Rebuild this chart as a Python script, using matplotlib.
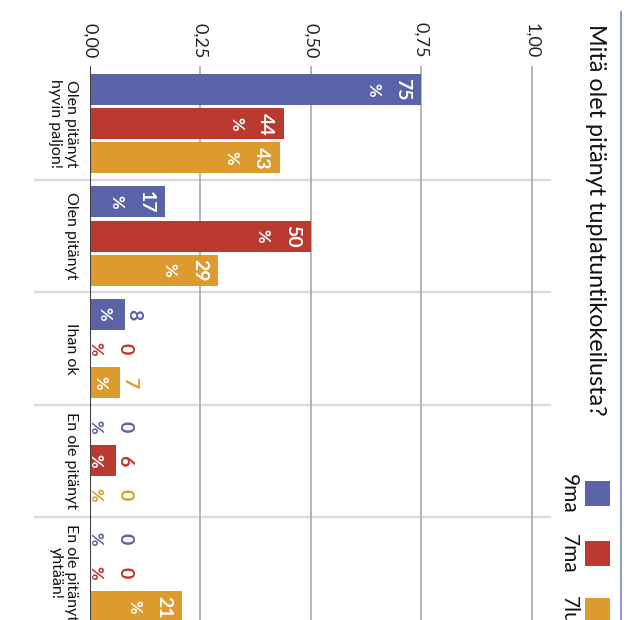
import numpy as np
import matplotlib
matplotlib.use("Agg")
import matplotlib.pyplot as plt
from matplotlib.patches import Rectangle
from matplotlib.lines import Line2D
from matplotlib.transforms import Bbox, TransformedBbox, blended_transform_factory

plt.rcParams['font.family'] = ['Lato', 'DejaVu Sans']

# Data
title = "Mitä olet pitänyt tuplatuntikokeilusta?"
categories = ["Olen pitänyt\nhyvin paljon!", "Olen pitänyt", "Ihan ok",
              "En ole pitänyt", "En ole pitänyt\nyhtään!"]
series_names = ["9ma", "7ma", "7lu"]
vals_9ma = [75, 17, 8, 0, 0]
vals_7ma = [44, 50, 0, 6, 0]
vals_7lu = [43, 29, 7, 0, 21]
tick_values = [0, 0.25, 0.5, 0.75, 1.0]
tick_labels = ["0,00", "0,25", "0,50", "0,75", "1,00"]
colors = ["#5a62a8", "#bb3a2f", "#dc9a2f"]

# Layout (pixels), chart is drawn rotated a quarter turn clockwise
W, H = 633, 620
fig = plt.figure(figsize=(W / 100, H / 100), dpi=100)


def fx(px):
    return px / W


def fy(py):
    return 1 - py / H


ax_l, ax_r, ax_t = 89.5, 550, 66
unit = 442.5          # px per 1.0 on the value axis
band = 112.25         # px per category
c0 = 123.9            # px, centre of first category

ax = fig.add_axes([fx(ax_l), 0, fx(ax_r) - fx(ax_l), (H - ax_t) / H])
ax.set_xlim(0, (ax_r - ax_l) / unit)
ax.set_ylim((H - c0) / band, (ax_t - c0) / band)
for s in ax.spines.values():
    s.set_visible(False)

ax.xaxis.tick_top()
ax.set_xticks(tick_values)
ax.set_xticklabels(tick_labels, rotation=270, fontsize=13, color="#222222")
ax.tick_params(axis='x', length=0, pad=5.8)
ax.set_yticks([])

for t in tick_values[1:]:
    ax.axvline(t, color="#a8a8a8", lw=1.2, zorder=1)
ax.axvline(0, color="#404040", lw=1.5, zorder=6)

# category separators
trans_sep = blended_transform_factory(ax.transAxes, ax.transData)
for b in np.arange(len(categories) - 1) + 0.5:
    ax.add_line(Line2D([(35 - ax_l) / (ax_r - ax_l), 1.0], [b, b], transform=trans_sep,
                       color="#d9d9d9", lw=1.6, clip_on=False, zorder=0))

# category labels
trans_cat = blended_transform_factory(fig.transFigure, ax.transData)
for i, cat in enumerate(categories):
    ax.text(fx(78), i, cat, transform=trans_cat, rotation=270, ha='right', va='center',
            multialignment='center', fontsize=11.5, linespacing=1.15, color="#111111")

# bars and value labels
series = [vals_9ma, vals_7ma, vals_7lu]
offsets = [-0.305, 0.0, 0.303]
bh = 0.277
y = np.arange(len(categories))


def px_to_val(px):
    return (px - ax_l) / unit


for vals, off, col in zip(series, offsets, colors):
    v = np.array(vals) / 100
    ax.barh(y + off, v, height=bh, color=col, zorder=3)
    for yi, vi, raw in zip(y, v, vals):
        yc = yi + off
        end_px = ax_l + vi * unit
        if vi >= 0.1:
            right = end_px - 10
        else:
            right = max(end_px - 3.5, 112.5) + 21
        pct_right = right - 30
        for txt, xr, kw in [(str(raw), right, dict(fontsize=14, fontweight='bold')),
                            ("%", pct_right, dict(fontsize=12, fontweight='bold'))]:
            ax.text(px_to_val(xr), yc, txt, rotation=270, ha='right', va='center',
                    color=col, zorder=4, **kw)
            if vi > 0:
                clip = TransformedBbox(Bbox([[0, yc - bh / 2], [vi, yc + bh / 2]]), ax.transData)
                t = ax.text(px_to_val(xr), yc, txt, rotation=270, ha='right', va='center',
                            color="white", zorder=5, **kw)
                t.set_clip_box(clip)
                t.set_clip_on(True)

# title
fig.text(fx(606), fy(24), title, rotation=270, ha='right', va='top', fontsize=16.8,
         color="#111111")

# legend
leg_tops = [481, 541, 598]
for name, col, top in zip(series_names, colors, leg_tops):
    fig.add_artist(Rectangle((fx(585), fy(top + 25)), fx(25), 25 / H, transform=fig.transFigure,
                             facecolor=col, edgecolor='none'))
    fig.text(fx(569), fy(top + 12.5), name, rotation=270, ha='center', va='center',
             fontsize=15, color="#111111")

# right border
fig.add_artist(Line2D([fx(620.5), fx(620.5)], [fy(12), 0], transform=fig.transFigure,
                      color="#8a9dd5", lw=1.5))

fig.savefig("out.png", dpi=100)
